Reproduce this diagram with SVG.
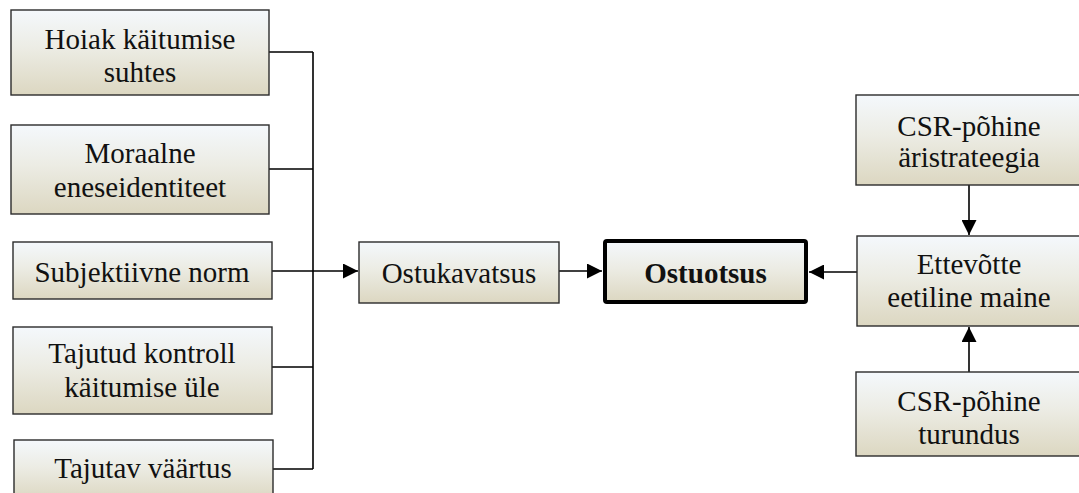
<svg xmlns="http://www.w3.org/2000/svg" width="1079" height="493" viewBox="0 0 1079 493">
<style>
.box{fill:url(#g);stroke:#2b2b2b;stroke-width:1.4}
.bold{fill:url(#g);stroke:#000;stroke-width:4}
.t{font-family:"Liberation Serif","Times New Roman",serif;font-size:29px;fill:#111;text-anchor:middle}
.tb{font-weight:bold}
.c{fill:none;stroke:#000;stroke-width:1.6}
</style>
<defs>
<linearGradient id="g" x1="0" y1="0" x2="0" y2="1">
<stop offset="0" stop-color="#f4f8fc"/>
<stop offset="0.45" stop-color="#ecece4"/>
<stop offset="1" stop-color="#dcd7c1"/>
</linearGradient>
<marker id="a" markerUnits="userSpaceOnUse" markerWidth="15" markerHeight="15" refX="14" refY="7" orient="auto" viewBox="0 0 14 14">
<path d="M0,0 L14,7 L0,14 Z" fill="#000"/>
</marker>
</defs>
<g id="connectors">
<path class="c" d="M269,52 H313 M269,169 H313 M272,367 H313 M273,469 H313 M313,52 V469"/>
<path class="c" d="M272,271 H358" marker-end="url(#a)"/>
<path class="c" d="M559,271 H602" marker-end="url(#a)"/>
<path class="c" d="M857,272 H809" marker-end="url(#a)"/>
<path class="c" d="M969,185 V235" marker-end="url(#a)"/>
<path class="c" d="M969,372 V327" marker-end="url(#a)"/>
</g>
<g id="hoiak">
<rect class="box" x="11" y="10" width="258" height="85"/>
<text class="t" x="140" y="49">Hoiak käitumise</text>
<text class="t" x="140" y="82">suhtes</text>
</g>
<g id="moraalne">
<rect class="box" x="11" y="125" width="258" height="89"/>
<text class="t" x="140" y="163">Moraalne</text>
<text class="t" x="140" y="197">eneseidentiteet</text>
</g>
<g id="subjektiivne">
<rect class="box" x="13" y="242" width="259" height="57"/>
<text class="t" x="142" y="282">Subjektiivne norm</text>
</g>
<g id="tajutud">
<rect class="box" x="13" y="327" width="259" height="87"/>
<text class="t" x="142" y="363">Tajutud kontroll</text>
<text class="t" x="142" y="397">käitumise üle</text>
</g>
<g id="tajutav">
<rect class="box" x="14" y="440" width="259" height="60"/>
<text class="t" x="143" y="478">Tajutav väärtus</text>
</g>
<g id="ostukavatsus">
<rect class="box" x="359" y="242" width="200" height="61"/>
<text class="t" x="459" y="283">Ostukavatsus</text>
</g>
<g id="ostuotsus">
<rect class="bold" x="605" y="241" width="201" height="61" rx="2"/>
<text class="t tb" x="705.5" y="283">Ostuotsus</text>
</g>
<g id="csr-strateegia">
<rect class="box" x="856" y="95" width="230" height="90"/>
<text class="t" x="969" y="136">CSR-põhine</text>
<text class="t" x="969" y="167">äristrateegia</text>
</g>
<g id="ettevotte">
<rect class="box" x="857" y="236" width="230" height="90"/>
<text class="t" x="969" y="274">Ettevõtte</text>
<text class="t" x="969" y="307">eetiline maine</text>
</g>
<g id="csr-turundus">
<rect class="box" x="856" y="372" width="230" height="84"/>
<text class="t" x="969" y="411">CSR-põhine</text>
<text class="t" x="969" y="444">turundus</text>
</g>
</svg>
